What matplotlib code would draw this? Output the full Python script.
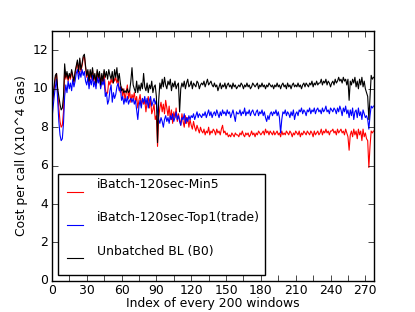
import numpy as np
import matplotlib
matplotlib.use('Agg')
import matplotlib.pyplot as plt
from matplotlib.lines import Line2D
from matplotlib.legend_handler import HandlerLine2D

# cost per call, X10^4 gas, one value per window index
min5 = [
    9.0, 9.5, 10.0, 10.6, 10.8, 9.9, 9.0, 8.3, 8.0, 8.1,
    8.8, 11.0, 10.5, 10.8, 10.4, 10.7, 10.5, 10.9, 10.6, 10.3,
    10.8, 11.1, 11.4, 10.8, 11.5, 10.9, 11.2, 11.6, 11.7, 11.1,
    10.6, 10.9, 10.3, 10.9, 10.5, 11.0, 10.4, 10.7, 10.2, 10.9,
    10.5, 10.8, 10.1, 10.7, 10.3, 10.9, 10.0, 9.7, 9.8, 10.4,
    10.2, 10.5, 10.3, 10.6, 10.4, 10.6, 10.3, 10.5, 10.0, 9.8,
    10.1, 9.6, 10.0, 9.4, 9.8, 10.2, 9.5, 9.9, 9.3, 9.7,
    9.5, 9.8, 9.3, 9.6, 9.0, 9.4, 9.7, 9.1, 9.5, 9.2,
    9.4, 8.8, 9.3, 9.6, 9.0, 9.5, 8.7, 8.9, 9.2, 8.4,
    8.6, 7.0, 8.5, 9.0, 9.3, 8.8, 9.2, 8.7, 9.4, 9.0,
    8.6, 9.1, 8.4, 8.9, 8.2, 8.8, 8.5, 9.0, 8.3, 8.7,
    8.4, 8.1, 8.7, 8.3, 8.0, 8.6, 8.2, 8.5, 8.0, 8.4,
    8.1, 7.9, 8.3, 8.0, 7.8, 8.1, 7.9, 7.7, 8.0, 7.8,
    7.7, 7.9, 7.6, 7.8, 7.7, 8.0, 7.6, 7.8, 7.7, 7.9,
    7.8, 7.6, 7.9, 7.7, 7.8, 7.6, 7.9, 8.1, 7.7, 7.8,
    7.6, 7.7, 7.5, 7.6, 7.5, 7.7, 7.6, 7.5, 7.7, 7.6, 7.6,
    7.5, 7.7, 7.6, 7.8, 7.6, 7.5, 7.7, 7.6, 7.7, 7.5,
    7.6, 7.8, 7.6, 7.7, 7.5, 7.7, 7.6, 7.8, 7.7, 7.6,
    7.7, 7.8, 7.6, 7.9, 7.7, 7.8, 7.6, 7.8, 7.7, 7.6,
    7.8, 7.6, 7.7, 7.8, 7.6, 7.7, 7.5, 7.8, 7.6, 7.7,
    7.6, 7.8, 7.7, 7.6, 7.8, 7.7, 7.5, 7.7, 7.6, 7.8,
    7.7, 7.6, 7.8, 7.5, 7.7, 7.6, 7.8, 7.7, 7.6, 7.8,
    7.7, 7.6, 7.8, 7.7, 7.5, 7.8, 7.6, 7.7, 7.8, 7.6,
    7.7, 7.9, 7.6, 7.8, 7.7, 7.9, 7.7, 7.8, 7.6, 7.8, 7.8,
    7.9, 7.7, 7.8, 7.6, 7.9, 7.7, 7.8, 7.9, 7.7, 7.8,
    7.6, 7.9, 7.7, 7.5, 6.8, 7.6, 7.8, 7.5, 7.9, 7.6,
    7.8, 7.4, 7.9, 7.6, 7.8, 7.3, 7.9, 7.5, 7.7, 7.4,
    7.3, 5.9, 7.0, 7.8, 7.7, 7.8,
]
top1 = [
    8.4, 9.0, 9.6, 10.1, 10.5, 9.4, 8.3, 7.6, 7.3, 7.4,
    8.2, 9.6, 10.2, 9.8, 10.4, 10.0, 10.3, 9.9, 10.5, 10.1,
    10.4, 10.8, 11.0, 10.5, 10.9, 10.6, 11.0, 10.7, 10.9, 10.4,
    10.2, 10.6, 10.0, 10.5, 10.2, 10.7, 10.1, 10.4, 10.0, 10.6,
    10.3, 10.6, 10.0, 10.4, 10.2, 10.5, 9.6, 9.8, 9.2, 9.4,
    9.9, 10.2, 9.3, 9.8, 9.5, 9.7, 10.1, 10.3, 9.9, 10.1,
    9.4, 9.6, 9.2, 9.5, 9.3, 9.6, 9.2, 9.4, 9.5, 9.3,
    9.5, 9.2, 9.4, 8.9, 8.4, 9.1, 9.4, 9.0, 9.5, 9.3,
    9.6, 9.2, 9.5, 9.0, 9.4, 9.6, 9.1, 9.3, 9.5, 9.2,
    9.4, 8.8, 8.4, 8.2, 8.5, 8.3, 8.0, 8.4, 8.6, 8.3,
    8.5, 8.2, 8.6, 8.4, 8.7, 8.3, 8.5, 8.8, 8.4, 8.6,
    8.3, 8.1, 8.5, 8.4, 8.7, 8.2, 8.5, 8.3, 8.6, 8.4,
    8.6, 8.5, 8.7, 8.4, 8.6, 8.8, 8.5, 8.7, 8.6, 8.5,
    8.7, 8.6, 8.8, 8.5, 8.7, 8.9, 8.6, 8.8, 8.5, 8.7,
    8.8, 8.6, 8.9, 8.7, 8.5, 8.8, 8.6, 8.9, 8.7, 8.8,
    8.6, 8.9, 8.7, 8.8, 8.5, 8.7, 8.9, 8.6, 8.3, 8.8, 8.7,
    8.7, 8.9, 8.6, 8.8, 8.7, 9.0, 8.6, 8.8, 8.7, 8.9,
    8.6, 8.8, 8.9, 8.7, 8.6, 8.8, 8.9, 8.6, 8.8, 8.7,
    8.9, 8.6, 8.8, 8.5, 8.3, 8.6, 8.4, 8.7, 8.8, 8.6,
    8.8, 8.7, 8.9, 8.6, 8.8, 8.5, 7.7, 8.4, 8.8, 8.7,
    8.9, 8.6, 8.8, 8.7, 8.5, 8.8, 8.6, 8.9, 8.4, 8.7,
    8.8, 8.6, 8.9, 8.8, 9.0, 8.7, 8.9, 8.8, 8.6, 8.9,
    8.8, 9.0, 8.7, 8.9, 8.8, 9.0, 8.7, 8.9, 9.0, 8.8,
    8.9, 8.7, 9.0, 8.8, 8.9, 9.1, 8.8, 8.9, 8.7, 9.0, 8.9,
    8.8, 9.0, 8.9, 8.7, 9.0, 8.8, 9.1, 8.9, 8.6, 9.0,
    8.8, 9.1, 8.7, 8.9, 8.5, 8.9, 8.6, 9.0, 8.4, 8.8,
    8.9, 8.5, 9.0, 8.6, 8.8, 8.4, 8.9, 8.7, 8.5, 8.6,
    8.4, 7.9, 8.6, 9.1, 9.0, 9.1,
]
unbatched = [
    9.1, 9.6, 10.2, 10.7, 10.8, 10.0, 9.6, 9.2, 8.9, 9.0,
    9.6, 11.3, 10.6, 10.9, 10.5, 10.8, 10.6, 11.0, 10.7, 10.4,
    10.9, 11.2, 11.5, 10.9, 11.6, 11.0, 11.3, 11.7, 11.8, 11.2,
    10.7, 11.0, 10.4, 11.0, 10.6, 11.1, 10.5, 10.8, 10.3, 11.0,
    10.6, 10.9, 10.2, 10.8, 10.4, 11.0, 10.6, 10.9, 10.5, 11.0,
    10.7, 10.5, 10.9, 10.3, 11.0, 10.6, 11.1, 10.4, 10.8, 10.3,
    9.9, 10.0, 9.8, 9.9, 9.8, 10.0, 9.8, 9.9, 10.4, 11.1,
    10.2, 10.0, 9.8, 10.4, 9.8, 10.2, 9.9, 10.3, 10.0, 10.8,
    10.1, 9.9, 10.3, 9.8, 10.2, 10.0, 10.4, 9.8, 10.1, 10.2,
    9.6, 7.2, 9.4, 10.3, 10.0, 10.5, 10.1, 10.6, 10.2, 10.0,
    10.4, 10.2, 10.5, 9.9, 10.3, 10.1, 10.4, 10.0, 10.2, 10.3,
    8.8, 10.0, 10.3, 10.1, 10.4, 10.0, 10.3, 10.5, 10.1, 10.2,
    10.4, 10.0, 10.3, 10.2, 10.1, 10.4, 10.3, 10.0, 10.2, 10.3,
    10.2, 10.4, 10.1, 10.3, 10.5, 10.2, 10.3, 10.4, 10.2, 10.1,
    10.3, 10.1, 10.2, 9.9, 10.1, 10.3, 10.0, 10.2, 10.1, 10.3,
    10.0, 10.2, 10.3, 10.1, 10.2, 10.0, 10.3, 10.1, 10.2, 10.0, 10.1,
    10.2, 10.1, 10.3, 10.2, 10.0, 10.2, 10.1, 10.3, 10.1, 10.2,
    10.0, 10.1, 10.3, 10.2, 10.1, 10.2, 10.3, 10.0, 10.2, 10.1,
    10.3, 10.1, 10.2, 10.0, 10.2, 10.1, 10.3, 10.2, 10.1, 10.2,
    10.0, 10.2, 10.1, 10.3, 10.1, 10.2, 10.0, 10.2, 10.3, 10.1,
    10.2, 10.0, 10.3, 10.1, 10.2, 10.0, 10.2, 10.3, 10.1, 10.2,
    10.1, 10.3, 10.1, 10.2, 10.0, 10.2, 10.3, 10.1, 10.3, 10.2,
    10.1, 10.3, 10.2, 10.4, 10.1, 10.3, 10.2, 10.4, 10.2, 10.3,
    10.3, 10.5, 10.2, 10.4, 10.3, 10.5, 10.2, 10.4, 10.3, 10.1, 10.3,
    10.4, 10.2, 10.5, 10.3, 10.4, 10.6, 10.4, 10.5, 10.3, 10.6,
    10.4, 10.5, 10.2, 10.5, 9.4, 10.4, 10.2, 10.5, 10.3, 10.6,
    10.1, 10.4, 10.0, 10.5, 10.2, 10.6, 10.1, 10.4, 10.0, 9.8,
    9.6, 8.4, 9.5, 10.7, 10.5, 10.6,
]
labels = ['iBatch-120sec-Min5', 'iBatch-120sec-Top1(trade)', 'Unbatched BL (B0)']
colors = ['r', 'b', 'k']
xticks = list(range(0, 271, 15))
xticklabels = [str(t) if t % 30 == 0 else '' for t in xticks]
yticks = list(range(0, 13, 2))


class LowLine(HandlerLine2D):
    # old-style legend: sample line sits under its label, box pads below
    def legend_artist(self, legend, orig_handle, fontsize, handlebox):
        handlebox.ydescent += 11.3
        handlebox.height += 11.3
        return super().legend_artist(legend, orig_handle, fontsize, handlebox)

    def create_artists(self, *args, **kw):
        arts = super().create_artists(*args, **kw)
        for a in arts:
            a.set_ydata(np.asarray(a.get_ydata()) - 5.8)
        return arts


plt.style.use('classic')
plt.rcParams['font.size'] = 8.9
plt.rcParams['font.family'] = ['DejaVu Sans']
plt.rcParams['xtick.major.pad'] = 2.5
plt.rcParams['ytick.major.pad'] = 2.5

fig = plt.figure(figsize=(4.15, 3.12), dpi=100, facecolor='white')
ax = fig.add_subplot(111)

x = np.arange(len(unbatched))
for y, c, lab in zip([min5, top1, unbatched], colors, labels):
    ax.plot(x, y, color=c, linewidth=0.8, label=lab)

ax.set_xlim(0, len(x) - 1)
ax.set_ylim(0, 13)
ax.set_xticks(xticks)
ax.set_xticklabels(xticklabels)
ax.set_yticks(yticks)
ax.set_xlabel('Index of every 200 windows', labelpad=-0.5)
ax.set_ylabel('Cost per call (X10^4 Gas)', labelpad=3)

leg = ax.legend(loc='lower left', fontsize=8.9, handlelength=2.05, handletextpad=0.78,
                labelspacing=0.6, borderpad=0.35, borderaxespad=0.5,
                handler_map={Line2D: LowLine(marker_pad=0.36)})
leg.get_frame().set_linewidth(1.0)

fig.savefig('out.png', dpi=100, facecolor='white')
